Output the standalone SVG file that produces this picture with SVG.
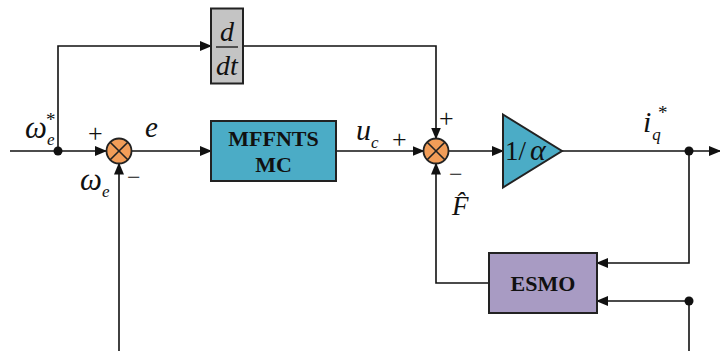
<svg xmlns="http://www.w3.org/2000/svg" width="720" height="351" viewBox="0 0 720 351">
<style>
.ln{fill:none;stroke:#111;stroke-width:1.6}
.box{stroke:#222;stroke-width:2}
.sum{fill:#F29D58;stroke:#222;stroke-width:1.8}
.x{stroke:#222;stroke-width:1.6}
.it{font-family:"Liberation Serif",serif;font-style:italic;fill:#111}
.rm{font-family:"Liberation Serif",serif;fill:#111}
.bd{font-family:"Liberation Serif",serif;font-weight:bold;fill:#111;text-anchor:middle}
.sub{font-size:17px}
.sup{font-size:19px;font-style:normal}
</style>
<defs>
<marker id="ar" markerWidth="12" markerHeight="10" refX="11" refY="5" orient="auto" markerUnits="userSpaceOnUse">
<path d="M0,0 L12,5 L0,10 Z" fill="#111"/>
</marker>
</defs>
<rect width="720" height="351" fill="#fff"/>
<g id="connectors">
<path class="ln" d="M10,151 H106" marker-end="url(#ar)"/>
<path class="ln" d="M58,151 V46 H211" marker-end="url(#ar)"/>
<path class="ln" d="M131.5,151 H211" marker-end="url(#ar)"/>
<path class="ln" d="M336,151 H423.5" marker-end="url(#ar)"/>
<path class="ln" d="M243,46 H436 V138.5" marker-end="url(#ar)"/>
<path class="ln" d="M448.5,151 H503" marker-end="url(#ar)"/>
<path class="ln" d="M562,151 H720" marker-end="url(#ar)"/>
<path class="ln" d="M689,151 V263 H597" marker-end="url(#ar)"/>
<path class="ln" d="M689,351 V301 H597" marker-end="url(#ar)"/>
<path class="ln" d="M489,283 H436 V163.5" marker-end="url(#ar)"/>
<path class="ln" d="M119,351 V163.5" marker-end="url(#ar)"/>
<circle cx="58" cy="151" r="4.5" fill="#111"/>
<circle cx="689" cy="151" r="4.5" fill="#111"/>
<circle cx="689" cy="301" r="4.5" fill="#111"/>
</g>
<g id="sum1">
<circle class="sum" cx="119" cy="151" r="12.5"/>
<path class="x" d="M110.2,142.2 L127.8,159.8 M127.8,142.2 L110.2,159.8"/>
</g>
<g id="sum2">
<circle class="sum" cx="436" cy="151" r="12.5"/>
<path class="x" d="M427.2,142.2 L444.8,159.8 M444.8,142.2 L427.2,159.8"/>
</g>
<g id="ddt">
<rect class="box" x="211" y="8.5" width="32" height="75" fill="#C4C4C4"/>
<text class="it" x="227" y="41" font-size="28" text-anchor="middle">d</text>
<line x1="216" y1="47" x2="238" y2="47" stroke="#111" stroke-width="1.3"/>
<text class="it" x="227" y="75" font-size="28" text-anchor="middle">dt</text>
</g>
<g id="mffnts">
<rect class="box" x="211" y="121" width="125" height="60" fill="#4BACC6"/>
<text class="bd" x="273.5" y="146" font-size="22">MFFNTS</text>
<text class="bd" x="273.5" y="172" font-size="22">MC</text>
</g>
<g id="gain">
<path d="M503,114.5 L562,151 L503,187.5 Z" fill="#4BACC6" stroke="#222" stroke-width="2" stroke-linejoin="miter"/>
<text class="rm" x="505" y="160" font-size="27">1/<tspan class="it" dx="4" font-size="30">α</tspan></text>
</g>
<g id="esmo">
<rect class="box" x="489" y="253" width="108" height="60" fill="#A89BC3"/>
<text class="bd" x="543" y="291" font-size="22">ESMO</text>
</g>
<g id="labels">
<text class="it" x="25" y="138" font-size="31">ω<tspan class="sub" dy="7">e</tspan></text>
<text class="rm" x="46" y="126" font-size="19">*</text>
<text class="rm" x="88" y="142" font-size="26">+</text>
<text class="it" x="145" y="137" font-size="29">e</text>
<text class="rm" x="127" y="185" font-size="24">−</text>
<text class="it" x="80" y="190" font-size="31">ω<tspan class="sub" dy="7">e</tspan></text>
<text class="it" x="356" y="140" font-size="30">u<tspan class="sub" dy="8">c</tspan></text>
<text class="rm" x="392" y="148" font-size="26">+</text>
<text class="rm" x="439" y="127" font-size="26">+</text>
<text class="rm" x="449" y="182" font-size="24">−</text>
<text class="it" x="452" y="215" font-size="27">F̂</text>
<text class="it" x="643" y="132" font-size="30">i<tspan class="sub" dy="8" dx="1">q</tspan></text>
<text class="rm" x="658" y="119" font-size="19">*</text>
</g>
</svg>
